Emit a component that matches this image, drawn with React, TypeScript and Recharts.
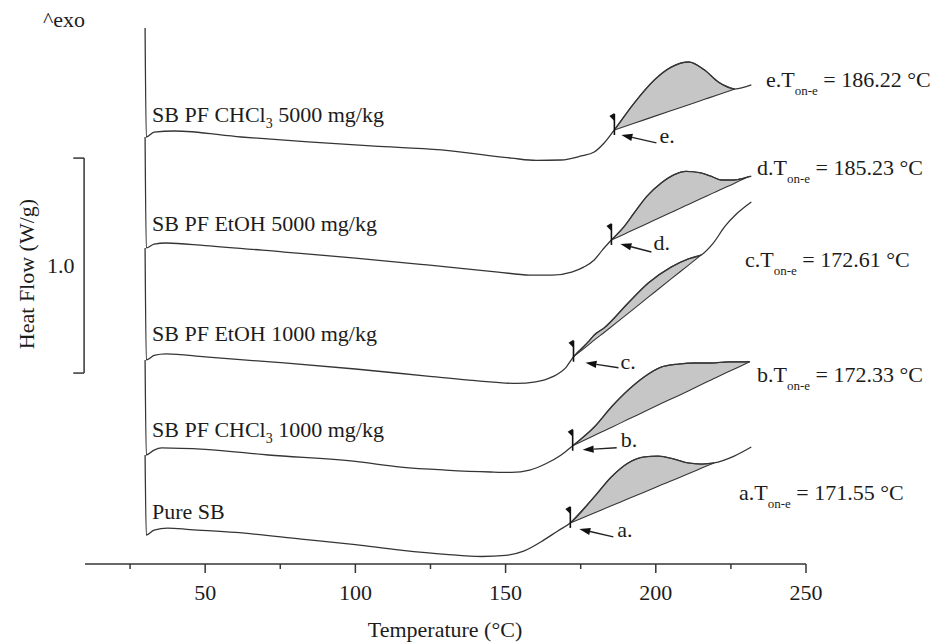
import React from 'react';
import { ComposedChart, Line, Area, Scatter, XAxis, YAxis, ReferenceLine } from 'recharts';

// ---------- DATA ----------
const xTicks = [25, 50, 75, 100, 125, 150, 175, 200, 225, 250];
const xTickLabels = [50, 100, 150, 200, 250];

const curveIds = ['a', 'b', 'c', 'd', 'e'];
const sampleNames = [
  ['Pure SB', '', ''],
  ['SB PF CHCl', '3', ' 1000 mg/kg'],
  ['SB PF EtOH 1000 mg/kg', '', ''],
  ['SB PF EtOH 5000 mg/kg', '', ''],
  ['SB PF CHCl', '3', ' 5000 mg/kg'],
];
const onsetTemps = [171.55, 172.33, 172.61, 185.23, 186.22];

// [T (°C), heat flow (W/g, stacked offset)]
const aPre: number[][] = [
  [30, 0.507], [30.4, 0.135], [33, 0.158], [37.5, 0.167], [45, 0.16], [60, 0.147], [82, 0.116],
  [100, 0.09], [115, 0.065], [130, 0.045], [142, 0.035], [150, 0.04], [156, 0.06], [162.8, 0.112], [167.5, 0.155],
];
// [T, integration baseline, heat flow]
const aPeak: number[][] = [
  [171.55, 0.191, 0.191], [179.5, 0.237, 0.312], [185.2, 0.271, 0.405], [190.8, 0.303, 0.47],
  [196.1, 0.334, 0.498], [200.8, 0.362, 0.502], [206.1, 0.392, 0.488], [210.8, 0.42, 0.47],
  [215.1, 0.445, 0.465], [219.4, 0.47, 0.47],
];
const aPost: number[][] = [[226.1, 0.502], [231.8, 0.544]];

const bPre: number[][] = [
  [30, 0.949], [30.4, 0.507], [33, 0.53], [35.5, 0.54], [50, 0.533], [71, 0.507], [100, 0.477],
  [115.2, 0.451], [130, 0.437], [145, 0.428], [152, 0.426], [158, 0.437], [163.2, 0.465], [168.5, 0.507],
];
const bPeak: number[][] = [
  [172.33, 0.55, 0.55], [179.5, 0.598, 0.637], [185.2, 0.635, 0.73], [190.8, 0.673, 0.809],
  [196.1, 0.708, 0.87], [201.8, 0.746, 0.916], [207.5, 0.783, 0.93], [213, 0.82, 0.935],
  [218.4, 0.856, 0.935], [224.1, 0.894, 0.94], [228, 0.919, 0.94], [231.3, 0.941, 0.941],
];
const bPost: number[][] = [];

const cPre: number[][] = [
  [30, 1.47], [30.4, 0.949], [33, 0.97], [37, 0.977], [50, 0.963], [76.3, 0.935], [100, 0.907],
  [123.9, 0.874], [140, 0.853], [153.5, 0.84], [160, 0.847], [165.5, 0.87], [170.2, 0.916],
];
const cPeak: number[][] = [
  [172.61, 0.964, 0.964], [177.5, 1.018, 1.033], [179.5, 1.041, 1.065], [182.8, 1.077, 1.098],
  [190.8, 1.166, 1.214], [197.5, 1.241, 1.307], [205.1, 1.326, 1.381], [210.8, 1.389, 1.419],
  [215.1, 1.437, 1.437],
];
const cPost: number[][] = [[219, 1.49], [223, 1.57], [227, 1.63], [231.8, 1.684]];

const dPre: number[][] = [
  [30, 1.986], [30.4, 1.47], [33, 1.488], [37, 1.493], [50, 1.481], [76.3, 1.451], [100, 1.423],
  [123.9, 1.391], [147.5, 1.358], [158, 1.344], [165.5, 1.344], [172, 1.358], [176, 1.381],
  [179.5, 1.414], [182.2, 1.46],
];
const dPeak: number[][] = [
  [185.23, 1.507, 1.507], [189.3, 1.533, 1.567], [192.8, 1.556, 1.633], [197, 1.583, 1.71],
  [201.8, 1.614, 1.772], [206, 1.641, 1.81], [210, 1.667, 1.826], [215.1, 1.7, 1.819],
  [219, 1.725, 1.8], [221.8, 1.743, 1.786], [226.1, 1.77, 1.786], [229.4, 1.792, 1.795],
  [230.7, 1.8, 1.8],
];
const dPost: number[][] = [[231.8, 1.804]];

const ePre: number[][] = [
  [30, 2.493], [30.4, 1.986], [33, 2.009], [39.7, 2.014], [62, 1.986], [84.3, 1.963], [106.3, 1.944],
  [128.6, 1.926], [151.9, 1.888], [160.2, 1.877], [168.5, 1.879], [175.2, 1.898], [179.5, 1.916],
  [182.8, 1.958],
];
const ePeak: number[][] = [
  [186.22, 2.019, 2.019], [192.8, 2.05, 2.144], [199.5, 2.082, 2.251], [205, 2.108, 2.31],
  [211, 2.136, 2.335], [216, 2.16, 2.3], [221, 2.184, 2.24], [226.3, 2.209, 2.209],
];
const ePost: number[][] = [[231.8, 2.228]];

// scale bar: 1.0 W/g
const scaleBar = { t: 9.7, from: 0.888, to: 1.888 };

// ---------- BUILD ----------
const pres = [aPre, bPre, cPre, dPre, ePre];
const peaks = [aPeak, bPeak, cPeak, dPeak, ePeak];
const posts = [aPost, bPost, cPost, dPost, ePost];

const traces = curveIds.map((id, i) => [
  ...pres[i].map(([t, h]) => ({ t, h })),
  ...peaks[i].map(([t, , h]) => ({ t, h })),
  ...posts[i].map(([t, h]) => ({ t, h })),
]);
const peakAreas = peaks.map((rows) => rows.map(([t, lo, hi]) => ({ t, range: [lo, hi] })));
const onsetMarks = curveIds.map((id, i) => ({ id, t: peaks[i][0][0], h: peaks[i][0][2] }));

// ---------- STYLE / LAYOUT ----------
const FONT = "'Liberation Serif', 'Times New Roman', Times, serif";
const INK = '#1c1c1c';
const LINE = '#353535';
const FILL = '#c6c6c6';
const W = 930;
const H = 635;

// pixel offsets of arrow head/tail and letter relative to onset point
const arrowStyle: Record<string, { head: number[]; tail: number[]; label: number[] }> = {
  a: { head: [9, 6], tail: [43, 14], label: [47, 14] },
  b: { head: [10, 4], tail: [44, 2], label: [48, 1] },
  c: { head: [12, 6], tail: [45, 11], label: [47, 12] },
  d: { head: [9, 4], tail: [40, 12], label: [42, 10] },
  e: { head: [7, 5], tail: [42, 13], label: [45, 13] },
};
const nameBaselines = [511, 429, 333, 223, 114];
const nameX = 144;
const onsetLabelPos = [
  [731, 492],
  [749, 374],
  [737, 259],
  [749, 167],
  [758, 79],
];

const TempTick = (props: any) => {
  const { x, y, payload } = props;
  const v = payload.value;
  const major = xTickLabels.includes(v);
  return (
    <g>
      <line x1={x} y1={y} x2={x} y2={y + (major ? 9 : 5)} stroke={LINE} strokeWidth={1.5} />
      {major && (
        <text x={x} y={y + 36} textAnchor="middle" fontSize={22} fontFamily={FONT} fill={INK}>
          {v}
        </text>
      )}
    </g>
  );
};

const OnsetMark = (props: any) => {
  const { cx, cy, payload } = props;
  if (cx == null || cy == null) return <g />;
  const s = arrowStyle[payload.id];
  const hx = cx + s.head[0];
  const hy = cy + s.head[1];
  const tx = cx + s.tail[0];
  const ty = cy + s.tail[1];
  const ang = Math.atan2(hy - ty, hx - tx);
  const L = 11;
  const wdt = 3.6;
  const bx = hx - L * Math.cos(ang);
  const by = hy - L * Math.sin(ang);
  const px = -Math.sin(ang) * wdt;
  const py = Math.cos(ang) * wdt;
  return (
    <g>
      <line x1={cx} y1={cy + 5} x2={cx} y2={cy - 16} stroke="#111" strokeWidth={1.6} />
      <path d={`M${cx},${cy - 17} L${cx - 5},${cy - 14} L${cx},${cy - 9} Z`} fill="#111" />
      <line x1={tx} y1={ty} x2={bx} y2={by} stroke="#222" strokeWidth={1.4} />
      <path d={`M${hx},${hy} L${bx + px},${by + py} L${bx - px},${by - py} Z`} fill="#111" />
      <text x={cx + s.label[0]} y={cy + s.label[1]} fontSize={22} fontFamily={FONT} fill={INK}>
        {payload.id}.
      </text>
    </g>
  );
};

export default function App() {
  return (
    <div style={{ position: 'relative', width: W, height: H }}>
      <style>{`html,body{overflow:hidden}`}</style>
      <ComposedChart width={W} height={H} margin={{ top: 18.5, right: 132, bottom: 49, left: 77 }}>
        <XAxis
          dataKey="t"
          type="number"
          domain={[10, 250]}
          ticks={xTicks}
          interval={0}
          allowDataOverflow
          tickLine={false}
          tickSize={0}
          tickMargin={0}
          axisLine={{ stroke: LINE, strokeWidth: 1.5 }}
          tick={(p: any) => <TempTick {...p} />}
          height={30}
        />
        <YAxis type="number" domain={[0, 2.5]} hide allowDataOverflow />
        <ReferenceLine
          segment={[{ x: scaleBar.t, y: scaleBar.from }, { x: scaleBar.t, y: scaleBar.to }]}
          stroke={LINE}
          strokeWidth={1.5}
          ifOverflow="visible"
        />
        <ReferenceLine
          segment={[{ x: scaleBar.t - 3.6, y: scaleBar.to }, { x: scaleBar.t, y: scaleBar.to }]}
          stroke={LINE}
          strokeWidth={1.5}
          ifOverflow="visible"
        />
        <ReferenceLine
          segment={[{ x: scaleBar.t - 3.6, y: scaleBar.from }, { x: scaleBar.t, y: scaleBar.from }]}
          stroke={LINE}
          strokeWidth={1.5}
          ifOverflow="visible"
        />
        {peakAreas.map((d, i) => (
          <Area
            key={'area' + i}
            data={d}
            dataKey="range"
            type="monotone"
            fill={FILL}
            fillOpacity={1}
            stroke={LINE}
            strokeWidth={1.1}
            isAnimationActive={false}
            dot={false}
            activeDot={false}
          />
        ))}
        {traces.map((d, i) => (
          <Line
            key={'line' + i}
            data={d}
            dataKey="h"
            type="monotone"
            stroke={LINE}
            strokeWidth={1.3}
            dot={false}
            activeDot={false}
            isAnimationActive={false}
          />
        ))}
        <Scatter data={onsetMarks} dataKey="h" shape={(p: any) => <OnsetMark {...p} />} isAnimationActive={false} />
      </ComposedChart>
      <svg
        width={W}
        height={H}
        style={{ position: 'absolute', left: 0, top: 0, pointerEvents: 'none', overflow: 'visible' }}
      >
        <g fontFamily={FONT} fill={INK} fontSize={22}>
          <text x={35} y={19}>^exo</text>
          <text x={26} y={266} textAnchor="middle" transform="rotate(-90 26 266)">
            Heat Flow (W/g)
          </text>
          <text x={39} y={265}>1.0</text>
          <text x={437} y={629} textAnchor="middle">Temperature (°C)</text>
          {sampleNames.map((n, i) => (
            <text key={'n' + i} x={nameX} y={nameBaselines[i]} style={{ whiteSpace: 'pre' }}>
              {n[0]}
              {n[1] && (
                <tspan fontSize={14} dy={6}>
                  {n[1]}
                </tspan>
              )}
              {n[2] && <tspan dy={-6}>{n[2]}</tspan>}
            </text>
          ))}
          {onsetTemps.map((v, i) => (
            <text key={'o' + i} x={onsetLabelPos[i][0]} y={onsetLabelPos[i][1]} style={{ whiteSpace: 'pre' }}>
              {curveIds[i]}.T
              <tspan fontSize={13} dy={8}>
                on-e
              </tspan>
              <tspan dy={-8}>{` = ${v.toFixed(2)} °C`}</tspan>
            </text>
          ))}
        </g>
      </svg>
    </div>
  );
}
